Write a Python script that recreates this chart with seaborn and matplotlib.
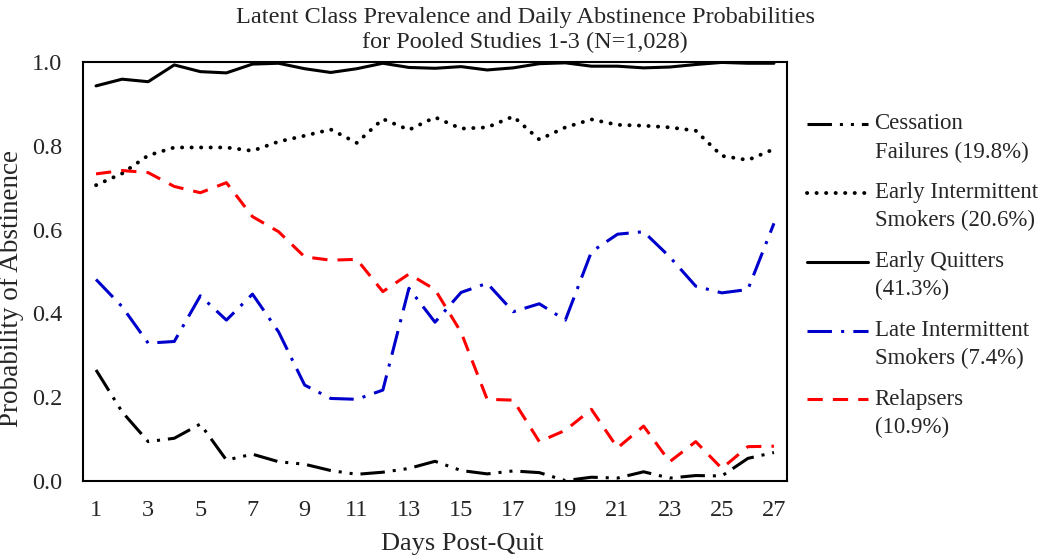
import numpy as np
import pandas as pd
import seaborn as sns
import matplotlib.pyplot as plt
from matplotlib.ticker import FormatStrFormatter
from matplotlib.transforms import Affine2D

# --- DATA ---
days = list(range(1, 28))

cessation_failures = [0.265, 0.165, 0.094, 0.102, 0.136, 0.050, 0.064, 0.046, 0.040,
                      0.025, 0.016, 0.021, 0.030, 0.047, 0.025, 0.017, 0.024, 0.020,
                      0.001, 0.009, 0.007, 0.022, 0.007, 0.013, 0.012, 0.054, 0.068]
early_intermittent = [0.706, 0.734, 0.777, 0.796, 0.796, 0.796, 0.788, 0.810, 0.824,
                      0.839, 0.807, 0.864, 0.838, 0.868, 0.841, 0.844, 0.870, 0.815,
                      0.844, 0.863, 0.850, 0.848, 0.844, 0.836, 0.776, 0.766, 0.792]
early_quitters = [0.943, 0.959, 0.953, 0.993, 0.977, 0.974, 0.995, 0.997, 0.984,
                  0.975, 0.984, 0.997, 0.987, 0.985, 0.989, 0.981, 0.986, 0.996,
                  0.998, 0.990, 0.990, 0.986, 0.988, 0.994, 0.999, 0.997, 0.997]
late_intermittent = [0.481, 0.416, 0.329, 0.333, 0.442, 0.384, 0.446, 0.356, 0.229,
                     0.197, 0.195, 0.217, 0.460, 0.379, 0.450, 0.472, 0.404, 0.423,
                     0.384, 0.547, 0.589, 0.595, 0.535, 0.465, 0.449, 0.457, 0.615]
relapsers = [0.733, 0.741, 0.736, 0.703, 0.688, 0.712, 0.631, 0.595, 0.535,
             0.527, 0.529, 0.452, 0.494, 0.457, 0.355, 0.195, 0.193, 0.094,
             0.121, 0.171, 0.079, 0.131, 0.046, 0.094, 0.030, 0.082, 0.083]

labels = ["Cessation\nFailures (19.8%)",
          "Early Intermittent\nSmokers (20.6%)",
          "Early Quitters\n(41.3%)",
          "Late Intermittent\nSmokers (7.4%)",
          "Relapsers\n(10.9%)"]

sns.set_style("white")
plt.rcParams['font.family'] = ['Liberation Serif', 'DejaVu Serif']

fig = plt.figure(figsize=(10.5, 5.59), dpi=100)
ax = fig.add_axes([83 / 1050, 78 / 559, 704 / 1050, 419 / 559])

# --- PLOT LINES ---
lw = 2.2
sns.lineplot(x=days, y=cessation_failures, ax=ax, color="black", linewidth=lw,
             linestyle=(0, (8, 2.6, 1, 2.6, 1, 2.6)), label=labels[0])
sns.lineplot(x=days, y=early_intermittent, ax=ax, color="black", linewidth=2.8,
             linestyle=(0, (0.05, 2.4)), dash_capstyle="round", label=labels[1])
sns.lineplot(x=days, y=early_quitters, ax=ax, color="black", linewidth=lw,
             linestyle="-", label=labels[2])
sns.lineplot(x=days, y=late_intermittent, ax=ax, color="#0000cc", linewidth=lw,
             linestyle=(0, (8, 3, 1, 3)), label=labels[3])
sns.lineplot(x=days, y=relapsers, ax=ax, color="#ff0000", linewidth=lw,
             linestyle=(0, (5, 3.3)), label=labels[4])

# --- AXES ---
ax.set_xlim(0.5, 27.5)
ax.set_ylim(0, 1.0)
ax.set_xticks(range(1, 28, 2))
ax.set_xticks(np.arange(0.5, 28, 1), minor=True)
ax.set_yticks(np.arange(0, 1.01, 0.2))
ax.yaxis.set_major_formatter(FormatStrFormatter("%.1f"))
ax.tick_params(axis="y", which="major", length=0, labelsize=17.5, pad=15)
ax.tick_params(axis="x", which="major", length=0, labelsize=17.5, pad=14)
ax.tick_params(axis="x", which="minor", length=7, width=1.2, color="#888888", direction="out")
for s in ax.spines.values():
    s.set_visible(True)
    s.set_color("black")
    s.set_linewidth(1.5)

ax.set_xlabel("Days Post-Quit", fontsize=19, va="center")
ax.xaxis.set_label_coords(0.538, -0.150)
ax.set_ylabel("Probability of Abstinence", fontsize=19.5, va="center")
ax.yaxis.set_label_coords(-0.101, 0.459)

fig.text(0.5, 1 - 30 / 559,
         "Latent Class Prevalence and Daily Abstinence Probabilities\nfor Pooled Studies 1-3 (N=1,028)",
         ha="center", va="center", fontsize=17.5, linespacing=1.22)

# --- LEGEND (handles level with the first line of each label) ---
leg = ax.legend(loc="center left", bbox_to_anchor=(1.028, 0.49), frameon=False, fontsize=16.5,
                handlelength=2.66, handletextpad=0.3, labelspacing=0.85, borderpad=0,
                borderaxespad=0)
for t in leg.get_texts():
    t.set_linespacing(1.45)
for h in leg.get_lines():
    h.set_transform(h.get_transform() + Affine2D().translate(0, 14))

fig.savefig("out.png", dpi=100)
